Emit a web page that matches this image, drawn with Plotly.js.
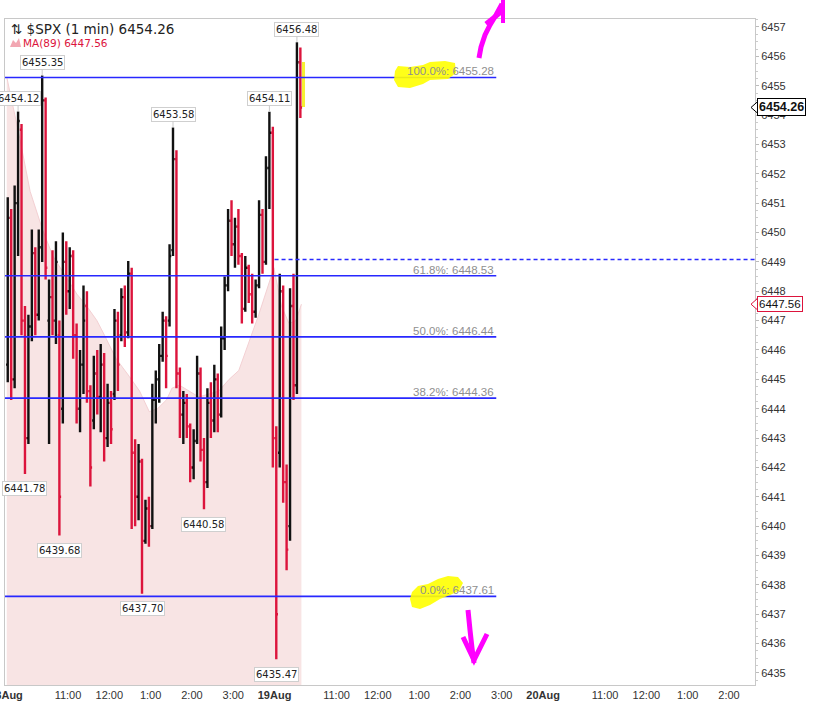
<!DOCTYPE html>
<html><head><meta charset="utf-8">
<script src="https://cdn.plot.ly/plotly-3.0.1.min.js"></script>
<style>html,body{margin:0;padding:0;background:#fff}#chart{width:832px;height:702px}</style>
</head><body><div id="chart"></div>
<script>
// ---- data (5-minute bars from 18Aug 09:30, trading-time axis) ----
const symbol = '$SPX';
const barInterval = 5; // minutes per bar
const barOpen  = [6445.5,6450.5,6445.0,6451.0,6453.5,6447.0,6443.0,6446.8,6449.3,6447.2,6449.5,6454.5,6447.0,6447.8,6447.0,6446.5,6444.0,6449.0,6448.0,6449.2,6446.5,6444.0,6445.5,6447.5,6444.6,6443.6,6445.2,6444.4,6445.5,6443.0,6444.2,6444.5,6447.0,6446.5,6447.8,6446.6,6448.6,6442.5,6441.0,6442.2,6439.5,6440.6,6440.0,6444.3,6445.0,6445.8,6447.0,6447.0,6449.4,6452.5,6445.2,6443.8,6444.2,6443.4,6442.0,6442.9,6445.2,6442.6,6441.5,6444.2,6443.6,6445.0,6443.8,6446.4,6448.2,6450.4,6449.6,6450.2,6449.2,6447.4,6448.8,6447.9,6447.3,6448.2,6450.6,6449.0,6452.2,6453.4,6443.0,6442.5,6448.0,6441.5,6440.0,6447.5,6444.8,6455.8];
const barHigh  = [6451.2,6450.8,6451.6,6454.12,6453.7,6447.5,6447.2,6450.1,6449.5,6450.1,6455.35,6454.6,6448.4,6449.4,6449.7,6447.0,6450.0,6449.7,6449.5,6449.4,6446.9,6446.0,6448.2,6448.0,6444.8,6445.8,6446.0,6446.2,6445.9,6444.85,6444.6,6447.4,6447.3,6448.1,6448.2,6449.03,6448.8,6442.96,6442.8,6442.3,6440.9,6441.0,6444.85,6445.3,6446.2,6447.3,6447.15,6449.6,6453.58,6452.8,6445.4,6444.6,6444.5,6443.5,6443.3,6445.8,6445.4,6443.0,6444.7,6444.9,6445.5,6445.2,6446.8,6448.5,6450.8,6451.1,6450.5,6450.8,6449.3,6449.2,6448.9,6448.6,6448.4,6451.1,6450.8,6452.6,6454.11,6453.6,6443.4,6448.6,6448.2,6442.1,6448.1,6448.6,6456.48,6456.3];
const barLow   = [6444.9,6444.3,6444.7,6449.2,6446.5,6441.78,6442.8,6446.3,6446.5,6447.0,6449.0,6448.4,6442.8,6446.5,6446.2,6439.68,6443.5,6447.2,6447.4,6445.7,6443.5,6443.2,6444.5,6444.2,6441.35,6443.3,6443.8,6443.2,6442.2,6442.7,6442.8,6444.3,6444.6,6446.3,6446.1,6446.4,6439.9,6440.0,6440.2,6437.70,6439.4,6439.3,6439.9,6443.5,6444.2,6445.6,6444.7,6446.8,6449.2,6444.7,6443.0,6442.8,6443.0,6441.5,6441.6,6442.8,6442.2,6440.58,6441.3,6443.0,6443.2,6443.2,6443.7,6446.0,6448.0,6449.2,6448.8,6448.9,6446.9,6447.3,6447.6,6446.9,6447.1,6448.1,6448.6,6448.9,6450.8,6442.0,6435.47,6442.0,6440.8,6438.5,6439.5,6444.3,6444.5,6453.9];
const barClose = [6450.5,6445.0,6451.0,6453.8,6447.0,6443.0,6446.8,6449.3,6447.2,6449.5,6454.5,6448.8,6447.8,6447.0,6449.0,6441.0,6449.0,6448.0,6449.2,6446.5,6444.0,6445.5,6447.0,6444.6,6442.0,6445.2,6444.4,6445.5,6443.0,6444.2,6443.3,6447.0,6445.5,6447.8,6446.6,6448.6,6442.5,6441.0,6442.2,6439.5,6440.6,6440.0,6444.3,6445.0,6445.8,6447.0,6445.8,6449.2,6452.5,6445.2,6443.8,6444.2,6443.4,6442.0,6442.9,6445.2,6442.6,6441.5,6444.2,6443.6,6445.0,6443.8,6446.4,6448.2,6450.4,6449.6,6450.2,6449.2,6447.4,6448.8,6447.9,6447.3,6448.2,6450.6,6449.0,6452.2,6453.4,6443.0,6437.0,6448.0,6441.5,6439.2,6447.5,6444.8,6455.8,6454.26];

// MA(89) area (time 'DD HH:MM', value)
const maTimes  = ['18 09:31','18 09:50','18 10:05','18 10:23','18 10:38','18 11:13','18 11:27','18 11:42','18 11:53','18 12:10','18 12:29','18 12:44','18 12:58','18 13:10','18 13:23','18 13:31','18 13:42','18 13:56','18 14:10','18 14:39','18 14:54','18 15:08','18 15:23','18 15:37','18 15:55','18 15:59','19 09:40','19 09:51','19 10:01','19 10:09'];
const maValues = [6455.3,6453.2,6451.4,6450.1,6449.2,6447.9,6447.5,6447.0,6446.5,6445.7,6445.1,6444.6,6443.9,6444.0,6444.3,6444.7,6444.8,6444.6,6444.4,6444.6,6445.0,6445.3,6446.3,6447.2,6448.5,6448.8,6447.5,6446.9,6447.0,6447.56];

// Fibonacci retracement
const fibLow = 6437.61, fibHigh = 6455.28;
const fibRatios = [1, 0.618, 0.5, 0.382, 0];
const fibEnd = '19 14:52';
const prevClose = 6449.08;
const prevCloseStart = '19 09:30';

// high / low call-outs: [bar index, 'high'|'low']
const callouts = [[3,'high'],[10,'high'],[48,'high'],[76,'high'],[84,'high'],[5,'low'],[15,'low'],[39,'low'],[57,'low'],[78,'low']];

// x-axis ticks
const tickTimes  = ['18 09:30','18 11:00','18 12:00','18 13:00','18 14:00','18 15:00','19 09:30','19 11:00','19 12:00','19 13:00','19 14:00','19 15:00','20 09:30','20 11:00','20 12:00','20 13:00','20 14:00'];
const tickLabels = ['18Aug','11:00','12:00','1:00','2:00','3:00','19Aug','11:00','12:00','1:00','2:00','3:00','20Aug','11:00','12:00','1:00','2:00'];

// ---- helpers ----
function tm(s){ // trading minutes since 18Aug 09:30 (390 min sessions)
  const [d,hm] = s.split(' '); const [h,m] = hm.split(':').map(Number);
  return (Number(d)-18)*390 + h*60 + m - 570;
}
const W=832,H=702, ML=5, MR=77, MT=19, MB=17;
const PW=W-ML-MR, PH=H-MT-MB;
const px = x => (x-ML)/PW, py = y => (H-MB-y)/PH;
function ppath(pts, close){ return pts.map((p,i)=>(i?'L':'M')+px(p[0]).toFixed(5)+','+py(p[1]).toFixed(5)).join(' ')+(close?' Z':''); }

const xRange = [-1.5, 1087.8];
const yRange = [6434.591, 6457.272];
const barX = barOpen.map((_,i)=> i*barInterval + barInterval/2);
const last = barClose.length-1;
const fibBlue = '#2828ff';

const traces = [
  {type:'scatter', mode:'lines', x: maTimes.map(tm), y: maValues, fill:'tozeroy', xaxis:'x', yaxis:'y',
   fillcolor:'#f8e4e4', line:{color:'#f3d0d3', width:1}, hoverinfo:'skip', showlegend:false},
  {type:'bar', x:[barX[last]], base:[barClose[last]], y:[barOpen[last]-barClose[last]], xaxis:'x2', yaxis:'y2',
   width:[4.5], offset:2.5, marker:{color:'#f5f032', line:{width:0}}, hoverinfo:'skip', showlegend:false},
  {type:'ohlc', x: barX, open: barOpen, high: barHigh, low: barLow, close: barClose, xaxis:'x2', yaxis:'y2',
   increasing:{line:{color:'#111111', width:2.4}}, decreasing:{line:{color:'#dc143c', width:2.4}},
   tickwidth:0.5, hoverinfo:'skip', showlegend:false}
];

const shapes = [];
const annotations = [];
const fibEndX = tm(fibEnd);
fibRatios.forEach(r=>{
  const v = fibLow + (fibHigh-fibLow)*r;
  shapes.push({type:'line', xref:'x', yref:'y', x0:xRange[0], x1:fibEndX, y0:v, y1:v, layer:'above', line:{color:fibBlue, width:1.6}});
  annotations.push({xref:'x', yref:'y', x:fibEndX, y:v, xanchor:'right', yanchor:'bottom', showarrow:false,
    text:(r*100).toFixed(1)+'%: '+v.toFixed(2), font:{family:'Liberation Sans, Arial', size:11.5, color:'#8f8f8f'}, yshift:-2});
});
shapes.push({type:'line', xref:'x', yref:'y', x0:tm(prevCloseStart), x1:xRange[1], y0:prevClose, y1:prevClose, layer:'above', line:{color:fibBlue, width:1.6, dash:'4px,3px'}});

// yellow highlighter marks
shapes.push({type:'path', xref:'paper', yref:'paper', layer:'above', fillcolor:'rgba(255,255,0,0.9)', line:{width:0},
  path: ppath([[395,71],[398,66],[410,67],[423,65],[430,62],[445,61],[455,63],[456,73],[448,79],[430,80],[423,84],[410,88],[398,87],[394,80]], true)});
shapes.push({type:'path', xref:'paper', yref:'paper', layer:'above', fillcolor:'rgba(255,255,0,0.9)', line:{width:0},
  path: ppath([[412,592],[418,586],[428,584],[438,579],[448,576],[458,577],[463,583],[459,591],[450,595],[440,599],[430,605],[420,609],[412,607],[410,599]], true)});
// magenta hand-drawn arrows
const mag = {color:'#ff00ff', width:5};
shapes.push({type:'path', xref:'paper', yref:'paper', layer:'above', line:mag, path: ppath([[479,58],[481,47],[485,35],[490,25],[496,15],[502,4]])});
shapes.push({type:'path', xref:'paper', yref:'paper', layer:'above', line:mag, path: ppath([[486,24],[496,16],[502,11]])});
shapes.push({type:'path', xref:'paper', yref:'paper', layer:'above', line:{color:'#ff00ff', width:4}, path: ppath([[503,0],[503,23]])});
shapes.push({type:'path', xref:'paper', yref:'paper', layer:'above', line:mag, path: ppath([[468,610],[470,630],[472,648],[474,663]])});
shapes.push({type:'path', xref:'paper', yref:'paper', layer:'above', line:mag, path: ppath([[463,637],[474,660],[487,634]])});
// legend icon (MA mountain)
shapes.push({type:'path', xref:'paper', yref:'paper', layer:'above', fillcolor:'#f2a7b2', line:{width:0}, path: ppath([[10,47],[13,40],[16,43],[19,38],[21,47]], true)});

// high/low call-outs
callouts.forEach(([i,kind])=>{
  const v = kind==='high' ? barHigh[i] : barLow[i];
  annotations.push({xref:'x', yref:'y', x:barX[i], y:v, text:v.toFixed(2), showarrow:true, ax:0, ay: kind==='high'?-13:15,
    arrowhead:0, arrowwidth:1, arrowcolor:'#c8c8c8', standoff:0, bgcolor:'#ffffff', bordercolor:'#cfcfcf', borderwidth:1, borderpad:1,
    font:{family:'DejaVu Sans, Verdana', size:10, color:'#222'}});
});

// header text
annotations.push({xref:'paper', yref:'paper', x:px(9), y:py(29), xanchor:'left', yanchor:'middle', showarrow:false,
  text:'⇅ '+symbol+' (1 min) '+barClose[last].toFixed(2), font:{family:'DejaVu Sans, Verdana', size:13.5, color:'#222'}});
annotations.push({xref:'paper', yref:'paper', x:px(21), y:py(43), xanchor:'left', yanchor:'middle', showarrow:false,
  text:'MA(89) '+maValues[maValues.length-1].toFixed(2), font:{family:'DejaVu Sans, Verdana', size:10.5, color:'#dc143c'}});

// right-axis value tags
function tag(v, bold, color){
  shapes.push({type:'path', xref:'paper', yref:'y', xsizemode:'pixel', ysizemode:'pixel', xanchor:1, yanchor:v,
    path:'M-4,0 L4,7 L4,-7 Z', fillcolor:'#ffffff', line:{color:color, width:1}, layer:'above'});
  annotations.push({xref:'paper', yref:'y', x:1, y:v, xanchor:'left', yanchor:'middle', xshift:2, showarrow:false,
    text: bold ? '<b>'+v.toFixed(2)+'</b>' : v.toFixed(2), bgcolor:'#ffffff', bordercolor:color, borderwidth:1, borderpad:1,
    font:{family:'Liberation Sans, Arial', size:bold?12.5:11.5, color:'#111'}});
}
tag(barClose[last], true, '#000000');
tag(maValues[maValues.length-1], false, '#dc143c');

const layout = {
  width:W, height:H, margin:{l:ML, r:MR, t:MT, b:MB}, paper_bgcolor:'#fff', plot_bgcolor:'#fff',
  showlegend:false, bargap:0,
  xaxis:{type:'linear', range:xRange, showgrid:false, zeroline:false, showline:true, mirror:true, linecolor:'#c8c8c8', linewidth:1,
    tickvals: tickTimes.map(tm), ticktext: tickLabels.map(t=>/Aug/.test(t)?'<b>'+t+'</b>':t), ticks:'', ticklabeloverflow:'allow',
    tickfont:{family:'Liberation Sans, Arial', size:11, color:'#333'}, rangeslider:{visible:false}, fixedrange:true},
  yaxis:{side:'right', range:yRange, tick0:6435, dtick:1, showgrid:false, zeroline:false, showline:true, mirror:true,
    linecolor:'#c8c8c8', linewidth:1, ticks:'outside', ticklen:3, tickcolor:'#bbbbbb',
    minor:{dtick:0.25, ticks:'outside', ticklen:2, tickcolor:'#cccccc'},
    tickfont:{family:'Liberation Sans, Arial', size:11, color:'#333'}, tickformat:'d', fixedrange:true},
  xaxis2:{type:'linear', overlaying:'x', range:xRange, visible:false, zeroline:false, showgrid:false, rangeslider:{visible:false}, fixedrange:true},
  yaxis2:{overlaying:'y', side:'right', range:yRange, visible:false, zeroline:false, showgrid:false, fixedrange:true},
  shapes, annotations
};
Plotly.newPlot('chart', traces, layout, {displayModeBar:false, staticPlot:true});
</script></body></html>
